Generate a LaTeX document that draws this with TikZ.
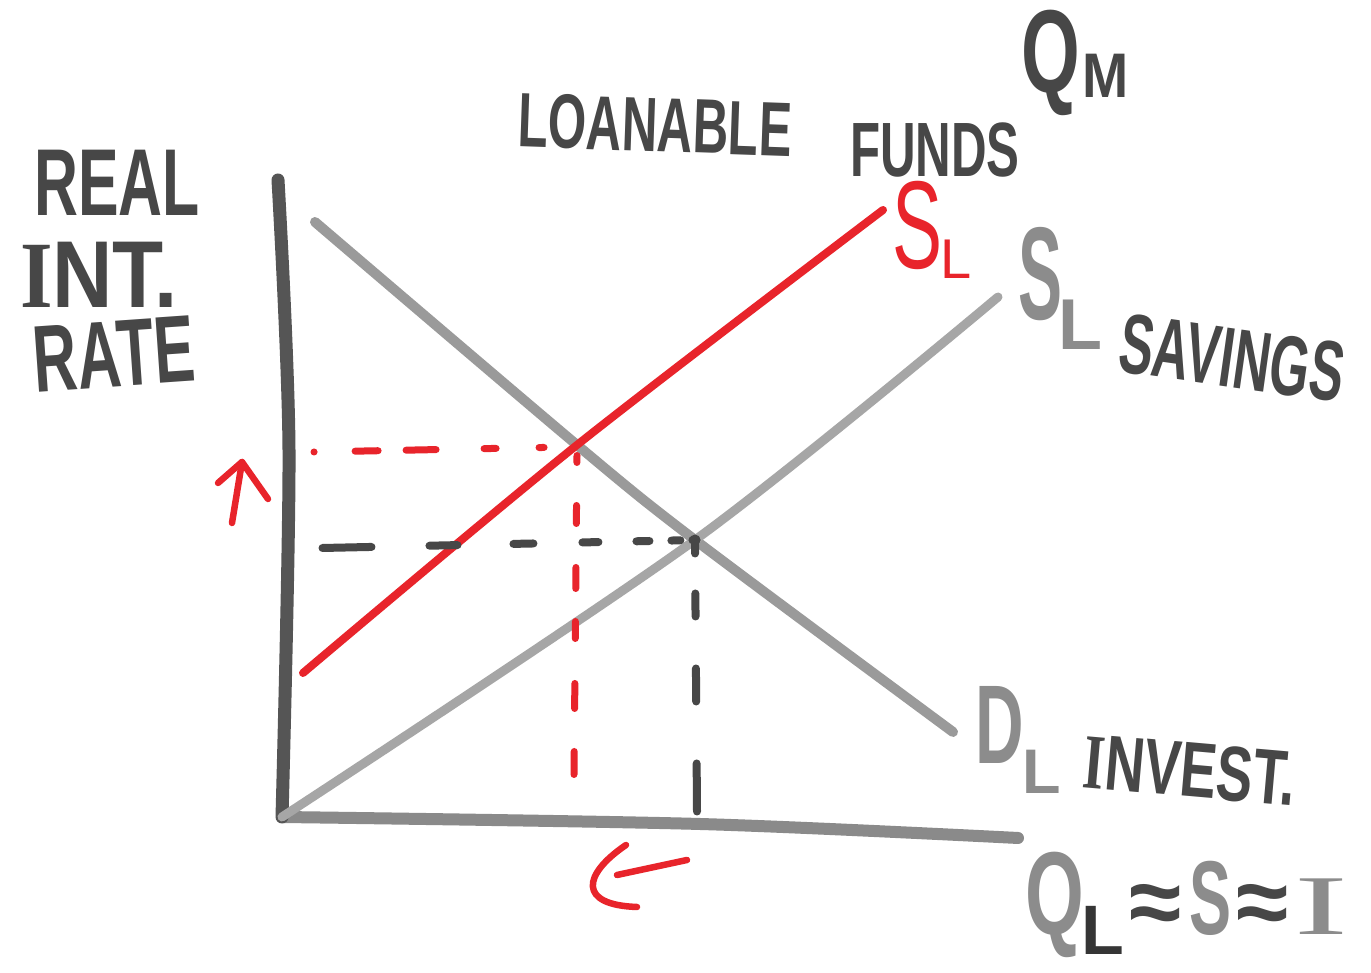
\documentclass[tikz,border=0pt]{standalone}
\usepackage{fontspec}
\setmainfont{Liberation Sans}
\newfontfamily\hA[FakeStretch=0.64]{Liberation Sans}
\newfontfamily\hS[FakeStretch=0.6]{Liberation Sans}
\newfontfamily\hB[FakeStretch=0.5]{Liberation Sans}
\newfontfamily\hC[FakeStretch=0.88]{Liberation Sans}
\newfontfamily\hD[FakeStretch=0.7]{Liberation Sans}
\newfontfamily\iC[FakeStretch=0.88]{Liberation Serif}
\newfontfamily\iD[FakeStretch=0.7]{Liberation Serif}
\newfontfamily\iE[FakeStretch=1.9]{Liberation Serif}
\newcommand\fsz[1]{\fontsize{#1}{#1}\selectfont}
\definecolor{ink}{HTML}{474747}
\definecolor{lightink}{HTML}{8C8C8C}
\definecolor{redink}{HTML}{E8242B}
\definecolor{axisdark}{HTML}{555555}
\definecolor{axislight}{HTML}{8A8A8A}
\definecolor{demandgray}{HTML}{9A9A9A}
\definecolor{supplygray}{HTML}{A6A6A6}
\begin{document}
\begin{tikzpicture}[x=1pt,y=1pt,line cap=round,line join=round,
  lbl/.style={inner sep=0pt,text=ink,font=\bfseries},
  yaxisline/.style={draw=axisdark,line width=13pt},
  xaxisline/.style={draw=axislight,line width=12pt},
  demandline/.style={draw=demandgray,line width=10pt},
  supplyline/.style={draw=supplygray,line width=9pt},
  redline/.style={draw=redink,line width=8pt},
  reddash/.style={draw=redink,line width=7pt},
  blackdash/.style={draw=ink,line width=8pt},
  redarrow/.style={draw=redink,line width=6.5pt}]
\useasboundingbox (0,0) rectangle (1371,973);
\fill[white] (0,0) rectangle (1371,973);

% axes
\coordinate (ytop) at (278,793);
\coordinate (ymid) at (289,523);
\coordinate (orig) at (282,156);
\coordinate (xmid) at (700,149);
\coordinate (xend) at (1018,135);
\draw[xaxisline] plot[smooth] coordinates {(orig) (xmid) (xend)};
\draw[yaxisline] plot[smooth] coordinates {(ytop) (ymid) (orig)};

% curves
\coordinate (dtop) at (315,751);
\coordinate (eqred) at (577,528);
\coordinate (eq) at (695,433);
\coordinate (dbot) at (953,241);
\coordinate (stop) at (998,676);
\coordinate (rbot) at (303,300);
\coordinate (rtop) at (883,763);
\draw[demandline] plot[smooth] coordinates {(dtop) (eqred) (eq) (dbot)};
\draw[supplyline] plot[smooth] coordinates {(orig) (eq) (stop)};
\draw[redline] plot[smooth] coordinates {(rbot) (eqred) (rtop)};

% dashed guides
\coordinate (rh0) at (314,521);
\coordinate (rh1) at (568,526);
\draw[reddash,dash pattern=on 0.1pt off 41pt on 23pt off 28pt on 30pt off 48pt on 12pt off 43pt on 5pt off 200pt] (rh0) -- (rh1);
\coordinate (rv0) at (577,517.5);
\coordinate (rv1) at (574,198.5);
\draw[reddash,dash pattern=on 7pt off 43pt on 18pt off 44pt on 21pt off 33pt on 17pt off 45pt on 25pt off 43pt on 23pt off 100pt] (rv0) -- (rv1);
\coordinate (bh0) at (322.5,425);
\coordinate (bh1) at (696.5,433);
\draw[blackdash,dash pattern=on 49pt off 58pt on 28pt off 56pt on 20pt off 49pt on 16pt off 38pt on 13pt off 22pt on 9pt off 12pt on 4pt off 100pt] (bh0) -- (bh1);
\coordinate (bv0) at (695,428.5);
\coordinate (bv1) at (697,161.5);
\draw[blackdash,dash pattern=on 9pt off 40pt on 23pt off 52pt on 33pt off 62pt on 48pt off 100pt] (bv0) -- (bv1);
\fill[ink] (eq) circle (5.5pt);

% red arrows
\coordinate (ua0) at (232,450);
\coordinate (ua1) at (242,511);
\coordinate (uh0) at (218,490);
\coordinate (uh1) at (268,474);
\draw[redarrow] (ua0) -- (ua1);
\draw[redarrow] (uh0) -- (ua1) -- (uh1);
\coordinate (la0) at (687,113);
\coordinate (la1) at (617,98);
\coordinate (lh0) at (626,128);
\coordinate (lh1) at (637,66);
\draw[redarrow] (la0) -- (la1);
\draw[redarrow] (lh0) .. controls (582,98) and (578,68) .. (lh1);

% labels
\node[lbl] (real) at (117,790) {\hA\fsz{95}REAL};
\node[lbl] (int) at (99,698) {\hC\fsz{95}{\iC I}NT.};
\node[lbl,rotate=4] (rate) at (114,619) {\hA\fsz{95}RATE};
\node[lbl,rotate=-2] (loanable) at (655,848) {\hA\fsz{77}LOANABLE};
\node[lbl] (funds) at (935,823) {\hA\fsz{77}FUNDS};
\node[lbl] (qm) at (1075,910) {{\hA\fsz{118}Q}\kern2pt\raisebox{-5pt}{\hC\fsz{63}M}};
\node[lbl,text=redink,font=\mdseries] (slred) at (932,743) {{\hS\fsz{125}S}\kern-2pt\raisebox{-10pt}{\fsz{56}L}};
\node[lbl,text=lightink] (slgray) at (1060,685) {{\hB\fsz{132}S}\kern-4pt\raisebox{-30pt}{\fsz{72}L}};
\node[lbl,rotate=-8] (savings) at (1232,615) {\hS\fsz{85}SAVINGS};
\node[lbl,text=lightink] (dl) at (1018,233) {{\hS\fsz{112}D}\kern-2pt\raisebox{-30pt}{\fsz{63}L}};
\node[lbl,rotate=-5] (invest) at (1190,203) {\hD\fsz{78}{\iD I}NVEST.};
\node[lbl] (ql) at (1187,68) {\textcolor{lightink}{\hA\fsz{118}Q}\kern-3pt\raisebox{-20pt}{\textcolor{ink!75!black}{\fsz{70}L}}\kern5pt{\fsz{95}≈}\kern8pt\textcolor{lightink}{\hS\fsz{105}S}\kern5pt{\fsz{95}≈}\kern6pt\textcolor{lightink}{\iE\mdseries\fsz{85}I}};
\end{tikzpicture}
\end{document}
